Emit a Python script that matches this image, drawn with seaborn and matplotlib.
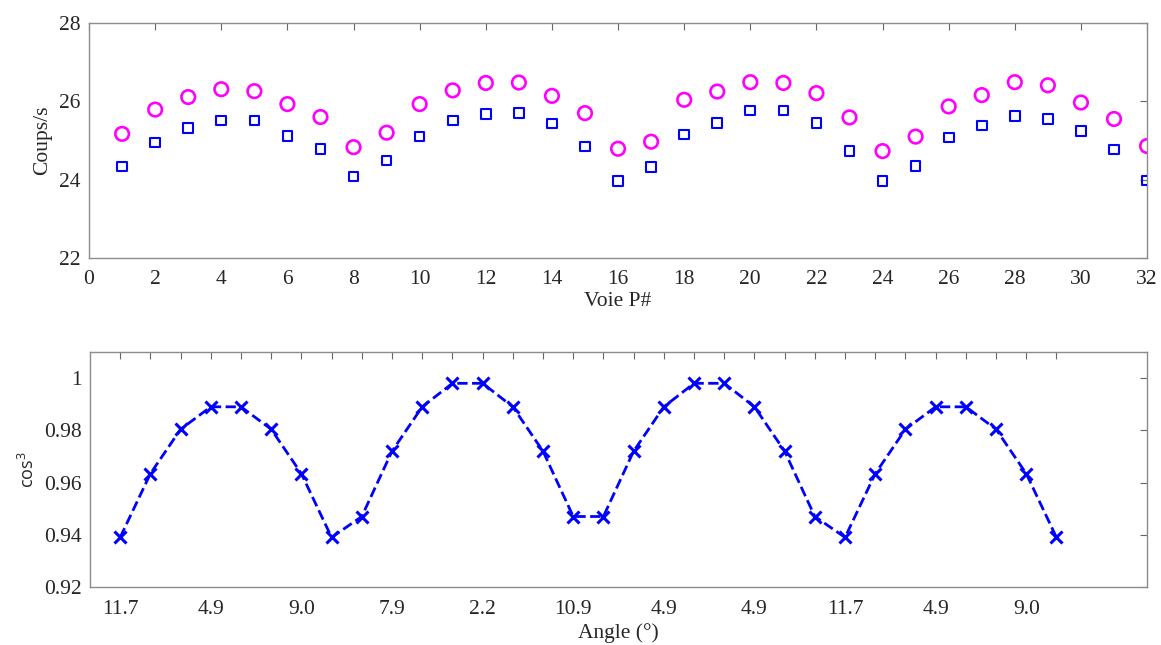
import numpy as np
import pandas as pd
import matplotlib
matplotlib.use("Agg")
import matplotlib.pyplot as plt
import seaborn as sns

# ---------------- data ----------------
voie = list(range(1, 33))
coups_circle = [25.17, 25.79, 26.11, 26.31, 26.26, 25.93, 25.60, 24.83, 25.20, 25.93,
                26.28, 26.47, 26.48, 26.14, 25.70, 24.79, 24.97, 26.04, 26.25, 26.49,
                26.47, 26.21, 25.59, 24.73, 25.10, 25.87, 26.16, 26.49, 26.41, 25.97,
                25.55, 24.86]
coups_square = [24.34, 24.95, 25.32, 25.51, 25.51, 25.12, 24.79, 24.08, 24.49, 25.10,
                25.51, 25.68, 25.71, 25.43, 24.85, 23.96, 24.32, 25.15, 25.44, 25.77,
                25.77, 25.45, 24.74, 23.97, 24.35, 25.08, 25.38, 25.62, 25.55, 25.24,
                24.77, 23.98]
cos3 = [0.939, 0.9634, 0.9804, 0.989, 0.989, 0.9804, 0.9634, 0.939, 0.947, 0.972,
        0.989, 0.998, 0.998, 0.989, 0.972, 0.947, 0.947, 0.972, 0.989, 0.998,
        0.998, 0.989, 0.972, 0.947, 0.939, 0.9634, 0.9804, 0.989, 0.989, 0.9804,
        0.9634, 0.939]
angle_labels = ["11.7", "4.9", "9.0", "7.9", "2.2", "10.9", "4.9", "4.9", "11.7", "4.9", "9.0"]

top_df = pd.DataFrame({"voie": voie, "circle": coups_circle, "square": coups_square})
bot_df = pd.DataFrame({"idx": voie, "cos3": cos3})

# ---------------- style ----------------
sns.set_theme(style="white")
plt.rcParams["font.family"] = ["Liberation Serif", "DejaVu Serif"]
plt.rcParams["mathtext.fontset"] = "custom"
plt.rcParams["mathtext.rm"] = "Open Sans"
plt.rcParams["mathtext.it"] = "Open Sans"

frame_col = "#8c8c8c"
text_col = "#262626"
fs = 15.5

fig = plt.figure(figsize=(11.61, 6.45), dpi=100)
ax1 = fig.add_axes([0.0767, 0.600, 0.9113, 0.3643])
ax2 = fig.add_axes([0.0775, 0.0899, 0.9105, 0.3644])

# ---------------- top panel ----------------
sns.scatterplot(data=top_df, x="voie", y="circle", ax=ax1, marker="o", s=95,
                facecolors="none", edgecolor="#ff00ff", linewidth=1.9, zorder=3)
sns.scatterplot(data=top_df, x="voie", y="square", ax=ax1, marker="s", s=48,
                facecolors="none", edgecolor="#0000ff", linewidth=1.5, zorder=3)
ax1.set_xlim(0, 32)
ax1.set_ylim(22, 28)
ax1.set_xticks(np.arange(0, 33, 2))
ax1.set_yticks([22, 24, 26, 28])
ax1.set_xlabel("Voie P#", fontsize=fs, color=text_col, labelpad=2)
ax1.set_ylabel("Coups/s", fontsize=fs, color=text_col, labelpad=5)

# ---------------- bottom panel ----------------
sns.lineplot(data=bot_df, x="idx", y="cos3", ax=ax2, color="#0000ff", linestyle="--",
             linewidth=2.0, marker="x", markersize=8, markeredgewidth=2.2,
             markeredgecolor="#0000ff", dashes=(4, 3))
ax2.set_xlim(0, 35)
ax2.set_ylim(0.92, 1.01)
ax2.set_xticks(voie)
xt_labels = []
for i in voie:
    xt_labels.append(angle_labels[(i - 1) // 3] if (i - 1) % 3 == 0 else "")
ax2.set_xticklabels(xt_labels)
ax2.set_yticks([0.92, 0.94, 0.96, 0.98, 1.0])
ax2.set_yticklabels(["0.92", "0.94", "0.96", "0.98", "1"])
ax2.set_xlabel("Angle (°)", fontsize=fs, color=text_col, labelpad=3)
ax2.set_ylabel(r"cos$^3$", fontsize=13, color=text_col, labelpad=4,
               family=["Open Sans", "DejaVu Sans"])

for ax in (ax1, ax2):
    for sp in ax.spines.values():
        sp.set_visible(True)
        sp.set_color(frame_col)
        sp.set_linewidth(1.0)
    ax.tick_params(direction="in", top=True, right=True, length=5, width=0.8,
                   color="#666666", labelsize=fs, labelcolor=text_col)
    ax.tick_params(axis="x", pad=9)
    ax.tick_params(axis="y", pad=6)
    ax.grid(False)
    ax.set_facecolor("white")

fig.savefig("out.png", dpi=100, facecolor="white")
